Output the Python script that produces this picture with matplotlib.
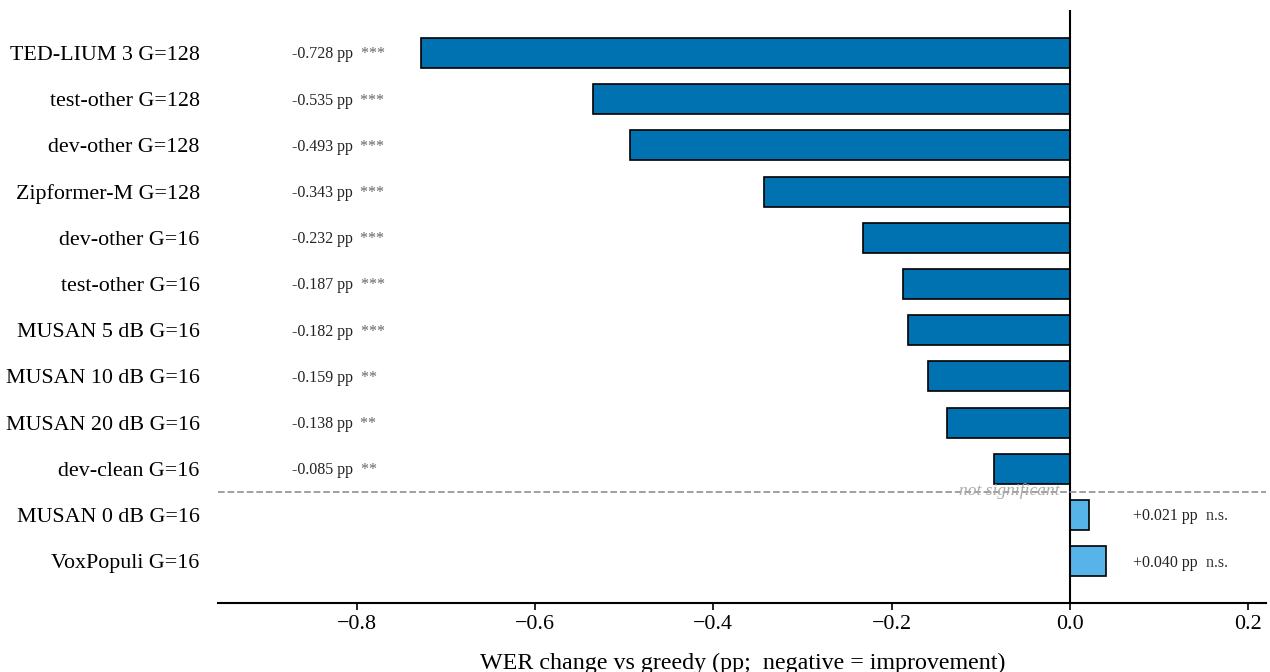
import matplotlib.pyplot as plt

plt.rcParams['font.family'] = ['Liberation Serif', 'DejaVu Serif']

labels = ["TED-LIUM 3 G=128", "test-other G=128", "dev-other G=128", "Zipformer-M G=128",
          "dev-other G=16", "test-other G=16", "MUSAN 5 dB G=16", "MUSAN 10 dB G=16",
          "MUSAN 20 dB G=16", "dev-clean G=16", "MUSAN 0 dB G=16", "VoxPopuli G=16"]
delta = [-0.728, -0.535, -0.493, -0.343, -0.232, -0.187, -0.182, -0.159, -0.138, -0.085, 0.021, 0.040]
sig = ["***", "***", "***", "***", "***", "***", "***", "**", "**", "**", "n.s.", "n.s."]

colors = ["#0072B2" if s != "n.s." else "#56B4E9" for s in sig]

fig, ax = plt.subplots(figsize=(12.7, 6.72), dpi=100)
fig.subplots_adjust(left=0.172, right=0.997, top=0.985, bottom=0.103)

y = list(range(len(labels)))
ax.barh(y, delta, height=0.65, color=colors, edgecolor="black", linewidth=1.2)

for i, (d, s) in enumerate(zip(delta, sig)):
    if d < 0:
        xt = -0.873
        txt = f"{d:.3f} pp"
    else:
        xt = 0.071
        txt = f"+{d:.3f} pp"
    t = ax.text(xt, i + 0.03, txt, va="center", ha="left", fontsize=11.5, color="#222222")
    ax.annotate("  " + s, xycoords=t, xy=(1, 0.5), va="center", ha="left",
                fontsize=11.5, color="#666666" if s != "n.s." else "#333333")

ax.axvline(0, color="black", linewidth=1.5)
ax.axhline(9.5, color="#999999", linestyle="--", linewidth=1.3)
ax.text(-0.012, 9.47, "not significant", ha="right", va="center", fontsize=12.5,
        style="italic", color="#aaaaaa")

ax.set_yticks(y)
ax.set_yticklabels(labels, fontsize=15.8)
ax.tick_params(axis="y", length=0, pad=13.5)
ax.tick_params(axis="x", labelsize=15.8, width=1.2, length=5)
ax.set_xlim(-0.955, 0.22)
ax.set_ylim(11.9, -0.93)
ax.set_xticks([-0.8, -0.6, -0.4, -0.2, 0.0, 0.2])
for sp in ["left", "top", "right"]:
    ax.spines[sp].set_visible(False)
ax.spines["bottom"].set_linewidth(1.5)
ax.set_xlabel("WER change vs greedy (pp;  negative = improvement)", fontsize=17.3, labelpad=14)

fig.savefig("out.png", dpi=100)
